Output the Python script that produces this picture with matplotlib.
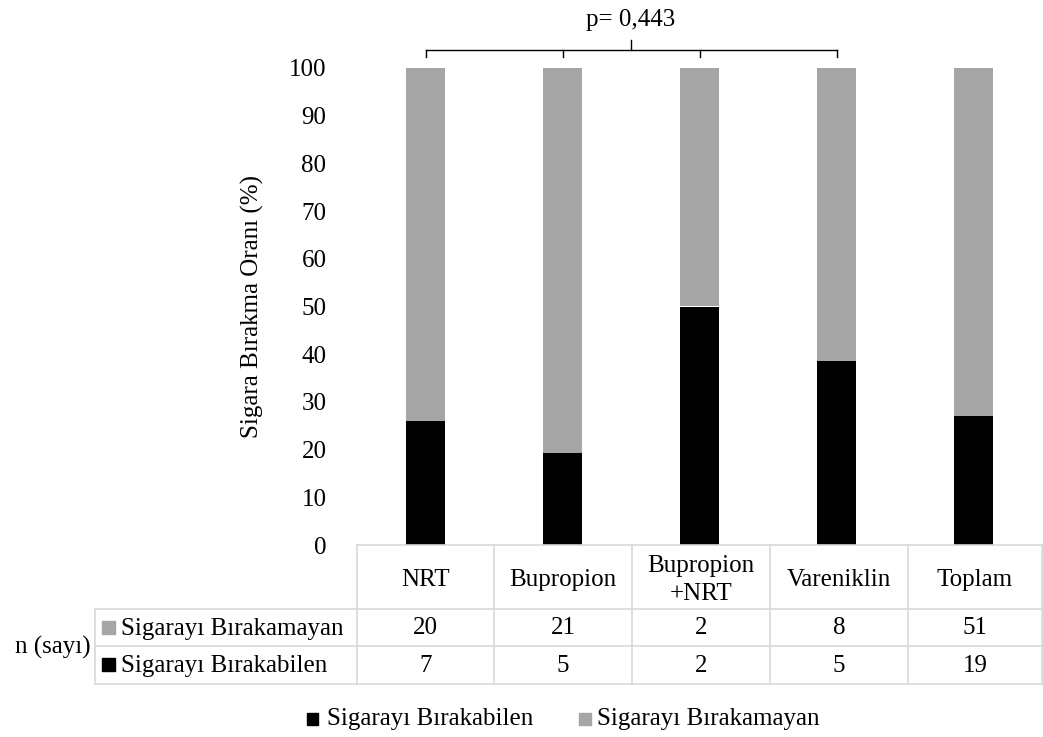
import matplotlib
matplotlib.use("Agg")
import matplotlib.pyplot as plt
from matplotlib.lines import Line2D
from matplotlib.patches import Rectangle

plt.rcParams['font.family'] = ['Liberation Serif', 'DejaVu Serif']

categories = ["NRT", "Bupropion", "Bupropion\n+NRT", "Vareniklin", "Toplam"]
quit_pct = [25.9, 19.2, 50.0, 38.5, 27.1]
not_quit_pct = [74.1, 80.8, 50.0, 61.5, 72.9]
n_not_quit = [20, 21, 2, 8, 51]
n_quit = [7, 5, 2, 5, 19]
series_names = ["Sigarayı Bırakabilen", "Sigarayı Bırakamayan"]
y_ticks = [0, 10, 20, 30, 40, 50, 60, 70, 80, 90, 100]
p_text = "p= 0,443"
y_title = "Sigara Bırakma Oranı (%)"

BLACK = "#000000"
GRAY = "#a5a5a5"
LINE = "#d9d9d9"
FS = 18

W, H = 1043, 737
fig = plt.figure(figsize=(W / 100, H / 100), dpi=100)

def fx(px):
    return px / W

def fy(py):
    return 1 - py / H

ax_l, ax_r, ax_t, ax_b = 357, 1042, 68, 545
ax = fig.add_axes([fx(ax_l), fy(ax_b), fx(ax_r) - fx(ax_l), fy(ax_t) - fy(ax_b)])
x = list(range(len(categories)))
ax.bar(x, quit_pct, width=0.29, color=BLACK, zorder=3)
ax.bar(x, not_quit_pct, bottom=quit_pct, width=0.29, color=GRAY, zorder=3)
ax.set_xlim(-0.5, len(categories) - 0.5)
ax.set_ylim(0, 100)
ax.set_yticks(y_ticks)
ax.set_yticklabels([str(t) for t in y_ticks], fontsize=FS)
ax.tick_params(axis='y', length=0, pad=22)
ax.set_xticks([])
for s in ax.spines.values():
    s.set_visible(False)
fig.text(fx(252), fy(306), y_title, rotation=90, ha='center', va='center', fontsize=FS)

# significance bracket
yb, yt, yc = 103.8, 102.3, 105.9
ax.plot([0, 3], [yb, yb], color=BLACK, lw=1, clip_on=False)
for xi in [0, 1, 2, 3]:
    ax.plot([xi, xi], [yb, yt], color=BLACK, lw=1, clip_on=False)
ax.plot([1.5, 1.5], [yb, yc], color=BLACK, lw=1, clip_on=False)
ax.text(1.5, 110.0, p_text, ha='center', va='center', fontsize=FS, clip_on=False)

# data table
col_edges = [357, 494, 632, 770, 908, 1042]
row_edges = [545, 609, 646, 684]
tbl_left = 95

def hline(y, x0, x1):
    fig.add_artist(Line2D([fx(x0), fx(x1)], [fy(y), fy(y)], color=LINE, lw=1.2))

def vline(xp, y0, y1):
    fig.add_artist(Line2D([fx(xp), fx(xp)], [fy(y0), fy(y1)], color=LINE, lw=1.2))

hline(row_edges[0], col_edges[0], col_edges[-1])
for r in row_edges[1:]:
    hline(r, tbl_left, col_edges[-1])
for c in col_edges:
    vline(c, row_edges[0], row_edges[-1])
vline(tbl_left, row_edges[1], row_edges[-1])

for i, cat in enumerate(categories):
    cx = (col_edges[i] + col_edges[i + 1]) / 2
    fig.text(fx(cx), fy((row_edges[0] + row_edges[1]) / 2 + 3), cat, ha='center', va='center',
             fontsize=FS, linespacing=1.3)
    fig.text(fx(cx), fy((row_edges[1] + row_edges[2]) / 2 + 1), str(n_not_quit[i]), ha='center', va='center', fontsize=FS)
    fig.text(fx(cx), fy((row_edges[2] + row_edges[3]) / 2 + 1), str(n_quit[i]), ha='center', va='center', fontsize=FS)

row_labels = [(series_names[1], GRAY), (series_names[0], BLACK)]
for k, (name, col) in enumerate(row_labels):
    cy = (row_edges[k + 1] + row_edges[k + 2]) / 2
    fig.add_artist(Rectangle((fx(102), fy(cy + 6)), fx(13), fy(0) - fy(13), transform=fig.transFigure,
                             color=col))
    fig.text(fx(121), fy(cy + 1), name, ha='left', va='center', fontsize=FS)

fig.text(fx(91), fy(row_edges[2] + 1), "n (sayı)", ha='right', va='center', fontsize=FS)

# legend
leg_y = 719
fig.add_artist(Rectangle((fx(307), fy(leg_y + 6)), fx(11), fy(0) - fy(12), transform=fig.transFigure, color=BLACK))
fig.text(fx(327), fy(leg_y), series_names[0], ha='left', va='center', fontsize=FS)
fig.add_artist(Rectangle((fx(579), fy(leg_y + 6)), fx(12), fy(0) - fy(12), transform=fig.transFigure, color=GRAY))
fig.text(fx(597), fy(leg_y), series_names[1], ha='left', va='center', fontsize=FS)

fig.savefig("out.png", dpi=100)
